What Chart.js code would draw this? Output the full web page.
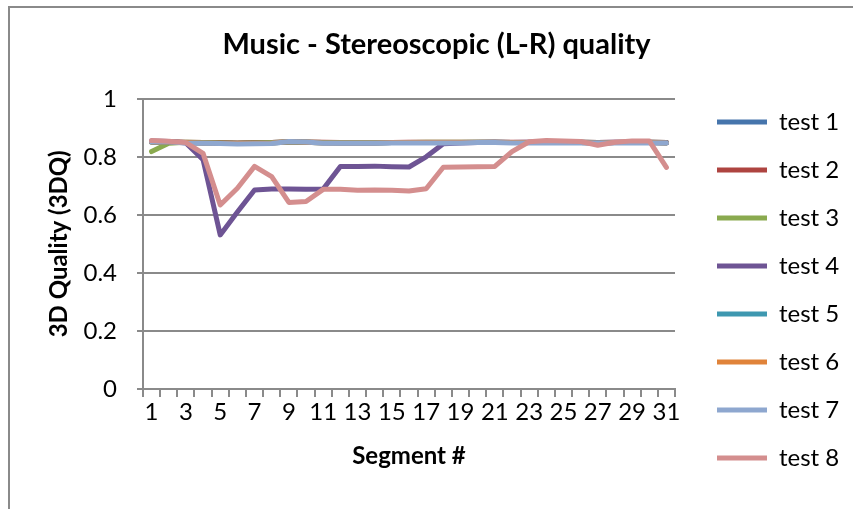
<!DOCTYPE html>
<html>
<head>
<meta charset="utf-8">
<script src="https://cdn.jsdelivr.net/npm/chart.js@4/dist/chart.umd.min.js"></script>
<style>
  body { margin: 0; background: #fff; }
  #wrap { position: relative; width: 853px; height: 509px; }
  #frame { position: absolute; left: 8px; top: 6px; right: -4px; bottom: -4px; border-left: 2px solid #8a8a8a; border-top: 2px solid #8a8a8a; pointer-events: none; }
</style>
</head>
<body>
<div id="wrap">
  <canvas id="myChart" width="853" height="509"></canvas>
  <div id="frame"></div>
</div>
<script>
// Segment numbers 1..31
const segments = [1,2,3,4,5,6,7,8,9,10,11,12,13,14,15,16,17,18,19,20,21,22,23,24,25,26,27,28,29,30,31];

const test1 = [0.851,0.851,0.849,0.848,0.848,0.847,0.848,0.849,0.851,0.850,0.849,0.848,0.848,0.848,0.849,0.849,0.849,0.849,0.849,0.850,0.850,0.849,0.849,0.849,0.849,0.849,0.848,0.849,0.849,0.849,0.848];
const test2 = [0.852,0.852,0.850,0.849,0.849,0.848,0.849,0.849,0.852,0.851,0.850,0.849,0.849,0.849,0.849,0.850,0.850,0.850,0.850,0.850,0.850,0.850,0.850,0.850,0.850,0.850,0.849,0.850,0.850,0.850,0.849];
const test3 = [0.818,0.847,0.850,0.849,0.848,0.847,0.848,0.849,0.851,0.850,0.849,0.849,0.849,0.849,0.849,0.849,0.850,0.850,0.850,0.850,0.850,0.849,0.849,0.850,0.850,0.850,0.849,0.849,0.850,0.850,0.849];
const test4 = [0.855,0.853,0.848,0.790,0.531,0.610,0.686,0.689,0.689,0.688,0.689,0.767,0.767,0.768,0.766,0.765,0.800,0.845,0.848,0.849,0.850,0.849,0.850,0.850,0.850,0.850,0.849,0.850,0.850,0.850,0.849];
const test5 = [0.850,0.850,0.849,0.848,0.847,0.846,0.847,0.848,0.851,0.850,0.848,0.848,0.848,0.848,0.849,0.849,0.849,0.849,0.849,0.849,0.849,0.849,0.849,0.849,0.849,0.849,0.848,0.849,0.849,0.849,0.848];
const test6 = [0.851,0.851,0.849,0.848,0.847,0.846,0.847,0.848,0.852,0.850,0.848,0.848,0.848,0.848,0.849,0.849,0.849,0.849,0.849,0.849,0.849,0.849,0.849,0.849,0.849,0.849,0.848,0.849,0.849,0.849,0.848];
const test7 = [0.852,0.852,0.848,0.847,0.846,0.844,0.845,0.846,0.853,0.851,0.847,0.847,0.847,0.847,0.848,0.848,0.848,0.848,0.848,0.849,0.849,0.848,0.848,0.848,0.848,0.848,0.848,0.848,0.848,0.848,0.848];
const test8 = [0.856,0.854,0.849,0.812,0.634,0.692,0.767,0.732,0.643,0.646,0.688,0.688,0.685,0.686,0.685,0.682,0.690,0.764,0.765,0.766,0.767,0.818,0.852,0.856,0.855,0.853,0.840,0.850,0.855,0.855,0.764];

const seriesNames = ['test 1','test 2','test 3','test 4','test 5','test 6','test 7','test 8'];
const seriesValues = [test1, test2, test3, test4, test5, test6, test7, test8];
const seriesColors = ['#4675AC','#AE4440','#8AAA4F','#6E5494','#3E98B0','#E0833A','#8EA7CF','#D48E8E'];

const yTicks = [0, 0.2, 0.4, 0.6, 0.8, 1];

const FONT = 'Lato, "Open Sans", sans-serif';
const GRID = '#8a8a8a';

// make the legend box a fixed width so the plot ends where the original does
const legendWidth = {
    id: 'legendWidth',
    beforeLayout(chart) {
        const lg = chart.legend;
        if (lg && !lg._fixed) {
            const fit = lg.fit;
            lg.fit = function() { fit.call(this); this.width = 160; };
            lg._fixed = true;
        }
    }
};

const datasets = [];
for (let i = 0; i < seriesNames.length; i++) {
    datasets.push({
        label: seriesNames[i],
        data: seriesValues[i],
        borderColor: seriesColors[i],
        backgroundColor: seriesColors[i],
        borderWidth: 5,
        pointRadius: 0,
        borderCapStyle: 'round',
        borderJoinStyle: 'round',
        tension: 0,
        order: seriesNames.length - i
    });
}

const data = {
    labels: segments,
    datasets: datasets
};

const config = {
    type: 'line',
    data: data,
    plugins: [legendWidth],
    options: {
        responsive: false,
        animation: false,
        layout: { padding: { left: 20, right: 0, top: 0, bottom: 15 } },
        scales: {
            x: {
                type: 'category',
                offset: true,
                afterFit: (s) => { s.height = 105; },
                grid: { drawOnChartArea: false, offset: true, tickLength: 8, color: GRID, lineWidth: 2 },
                border: { color: GRID, width: 2 },
                ticks: {
                    autoSkip: false,
                    maxRotation: 0,
                    padding: 1,
                    color: '#000',
                    font: { family: FONT, size: 24 },
                    callback: function(v, i) { return i % 2 === 0 ? String(segments[i]) : ''; }
                },
                title: {
                    display: true,
                    text: 'Segment #',
                    color: '#000',
                    font: { family: FONT, size: 24, weight: 'bold' },
                    padding: { top: 0, bottom: 23 }
                }
            },
            y: {
                min: 0,
                max: 1,
                afterFit: (s) => { s.width = 123; },
                afterBuildTicks: (s) => { s.ticks = yTicks.map(v => ({ value: v })); },
                grid: { color: GRID, lineWidth: 2, tickLength: 6 },
                border: { color: GRID, width: 2 },
                ticks: {
                    padding: 20,
                    color: '#000',
                    font: { family: FONT, size: 24 },
                    callback: (v) => String(v)
                },
                title: {
                    display: true,
                    text: '3D Quality (3DQ)',
                    color: '#000',
                    font: { family: FONT, size: 24, weight: 'bold' },
                    padding: { top: 25, bottom: 0 }
                }
            },
            gap: {
                type: 'linear',
                position: 'right',
                afterFit: (s) => { s.width = 18; },
                grid: { display: false },
                border: { display: false },
                ticks: { display: false }
            }
        },
        plugins: {
            title: {
                display: true,
                text: 'Music - Stereoscopic (L-R) quality',
                color: '#000',
                font: { family: FONT, size: 29, weight: 'bold' },
                padding: { top: 27, bottom: 37 }
            },
            legend: {
                position: 'right',
                align: 'end',
                labels: {
                    usePointStyle: true,
                    pointStyle: 'line',
                    pointStyleWidth: 50,
                    padding: 24,
                    color: '#000',
                    font: { family: FONT, size: 24 },
                    sort: (a, b) => a.datasetIndex - b.datasetIndex
                }
            },
            tooltip: { enabled: false }
        }
    }
};

const myChart = new Chart(
    document.getElementById('myChart'),
    config
);
</script>
</body>
</html>
